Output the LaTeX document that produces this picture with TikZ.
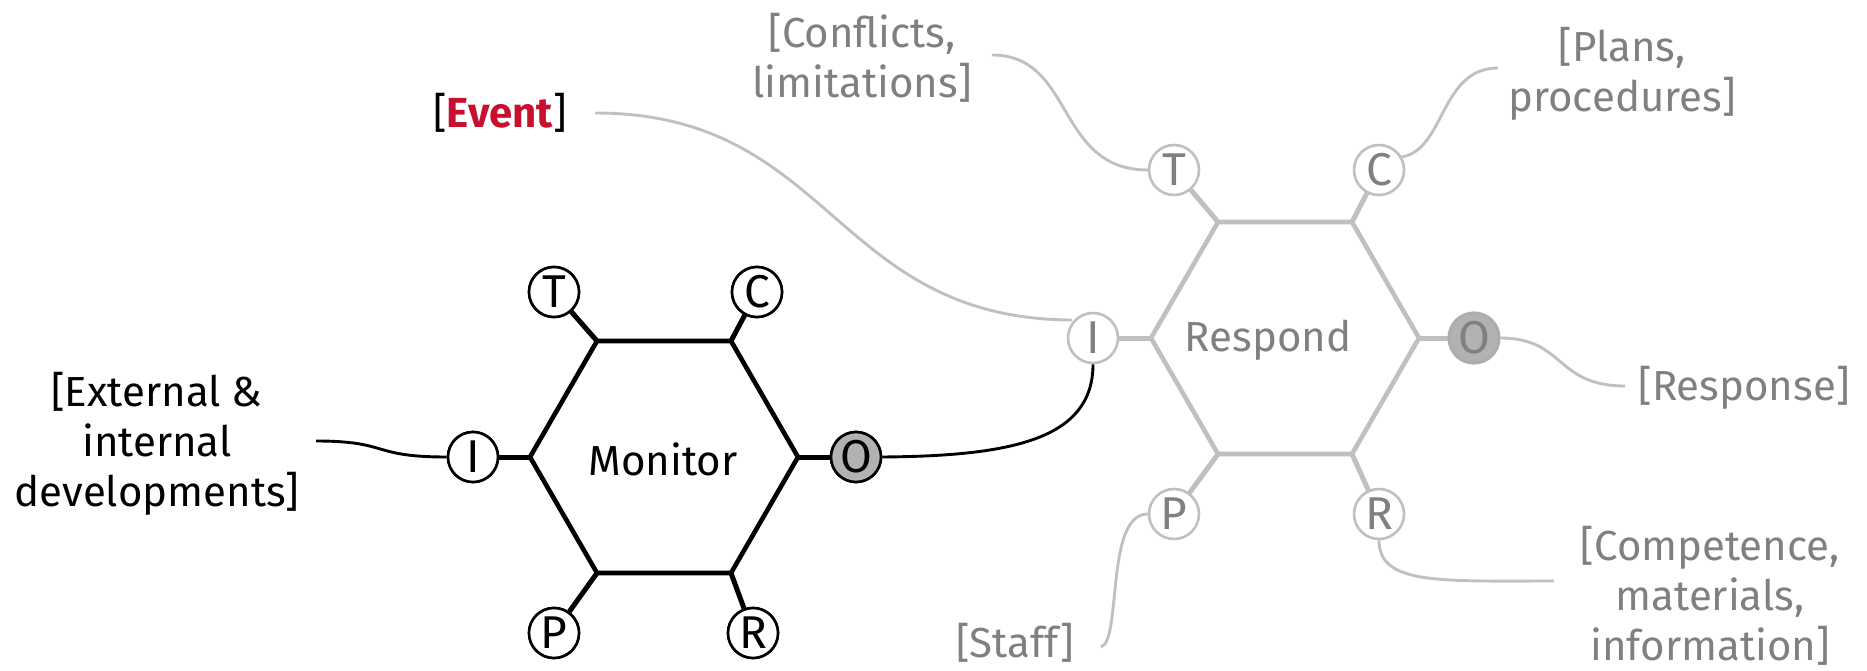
\documentclass[tikz,border=0pt]{standalone}
\usepackage{fontspec}
\setmainfont{Fira Sans}
\begin{document}
\begin{tikzpicture}[x=1pt,y=-1pt]
\definecolor{eventred}{RGB}{200,16,46}
\definecolor{lgray}{RGB}{192,192,192}
\definecolor{tgray}{RGB}{128,128,128}
\definecolor{ofill}{RGB}{178,178,178}
\tikzset{
  lbl/.style={inner sep=0pt, align=center, font=\fontsize{42}{50}\selectfont},
  port/.style={circle, draw=black, line width=2.6pt, fill=white, minimum size=50pt, inner sep=0pt, font=\fontsize{46}{46}\selectfont},
  outport/.style={port, fill=ofill},
  gport/.style={port, draw=lgray, text=tgray},
  goutport/.style={gport, fill=ofill, draw=lgray!90!black, line width=3.2pt},
  hexline/.style={line width=4.6pt, line join=miter},
  stub/.style={line width=5pt},
  bconn/.style={line width=2.9pt},
  gconn/.style={line width=2.9pt, draw=lgray},
}
\useasboundingbox (0,0) rectangle (1867,671);

% ---------- Monitor ----------
\draw[hexline] (530,457) -- (597,341) -- (731,341) -- (798,457) -- (731,573) -- (597,573) -- cycle;
\node[font=\fontsize{42}{42}\selectfont] (mon) at (663,459) {Monitor};

\node[port] (mT) at (554,292) {T};
\node[port] (mC) at (757,292) {C};
\node[port] (mI) at (473,457) {I};
\node[outport] (mO) at (856,457) {O};
\node[port] (mP) at (554,633) {P};
\node[port] (mR) at (753,633) {R};

\coordinate (mv1) at (597,341);
\coordinate (mv2) at (731,341);
\coordinate (mv0) at (530,457);
\coordinate (mv3) at (798,457);
\coordinate (mv4) at (731,573);
\coordinate (mv5) at (597,573);

% ---------- Respond ----------
\draw[hexline, draw=lgray] (1151,338) -- (1218,222) -- (1352,222) -- (1419,338) -- (1352,454) -- (1218,454) -- cycle;
\node[font=\fontsize{42}{42}\selectfont, text=tgray] (res) at (1268,340) {Respond};

\coordinate (rv0) at (1151,338);
\coordinate (rv1) at (1218,222);
\coordinate (rv2) at (1352,222);
\coordinate (rv3) at (1419,338);
\coordinate (rv4) at (1352,454);
\coordinate (rv5) at (1218,454);

% ---------- labels ----------
\node[lbl] (ext) at (157,444) {[External \&\\internal\\developments]};
\node[lbl] (ev) at (500,113) {[\textcolor{eventred}{\bfseries Event}]};
\node[lbl, text=tgray] (conf) at (862,58) {[Conflicts,\\limitations]};
\node[lbl, text=tgray] (plans) at (1622,74) {[Plans,\\procedures]};
\node[lbl, text=tgray] (resp) at (1744,388) {[Response]};
\node[lbl, text=tgray] (staff) at (1015,643) {[Staff]};
\node[lbl, text=tgray] (comp) at (1710,596) {[Competence,\\materials,\\information]};

\coordinate (extE) at (316,441);
\coordinate (evE) at (595,113);
\coordinate (confE) at (992,55);
\coordinate (plansW) at (1498,68);
\coordinate (respW) at (1625,386);
\coordinate (staffE) at (1101,647);
\coordinate (compW) at (1554,581);

% ---------- gray connectors ----------
\draw[gconn] (evE) .. controls (833,113) and (833,319) .. (1072,320);
\draw[gconn] (confE) .. controls (1075,55) and (1055,170) .. (1148,170);

% ---------- Respond stubs and ports ----------
\draw[stub, draw=lgray] (rv1) -- (1174,170);
\draw[stub, draw=lgray] (rv2) -- (1379,170);
\draw[stub, draw=lgray] (rv0) -- (1093,338);
\draw[stub, draw=lgray] (rv3) -- (1474,338);
\draw[stub, draw=lgray] (rv5) -- (1174,514);
\draw[stub, draw=lgray] (rv4) -- (1379,514);

\node[gport] (rT) at (1174,170) {T};
\node[gport] (rC) at (1379,170) {C};
\node[gport] (rI) at (1093,338) {I};
\node[goutport] (rO) at (1474,338) {O};
\node[gport] (rP) at (1174,514) {P};
\node[gport] (rR) at (1379,514) {R};

\draw[gconn] (rC.30) .. controls (1445,150) and (1440,68) .. (plansW);
\draw[gconn] (rO.east) .. controls (1565,338) and (1555,386) .. (respW);
\draw[gconn] (staffE) .. controls (1122,640) and (1105,514) .. (rP.west);
\draw[gconn] (rR.south) .. controls (1379,585) and (1440,581) .. (compW);

% ---------- Monitor stubs ----------
\draw[stub] (mv1) -- (mT);
\draw[stub] (mv2) -- (mC);
\draw[stub] (mv0) -- (mI);
\draw[stub] (mv3) -- (mO);
\draw[stub] (mv5) -- (mP);
\draw[stub] (mv4) -- (mR);
\node[port] at (mT) {T};
\node[port] at (mC) {C};
\node[port] at (mI) {I};
\node[outport] at (mO) {O};
\node[port] at (mP) {P};
\node[port] at (mR) {R};

% ---------- black connectors ----------
\draw[bconn] (extE) .. controls (390,441) and (370,457) .. (mI.west);
\draw[bconn] (mO.east) .. controls (1010,456) and (1093,440) .. (rI.south);
\end{tikzpicture}
\end{document}
